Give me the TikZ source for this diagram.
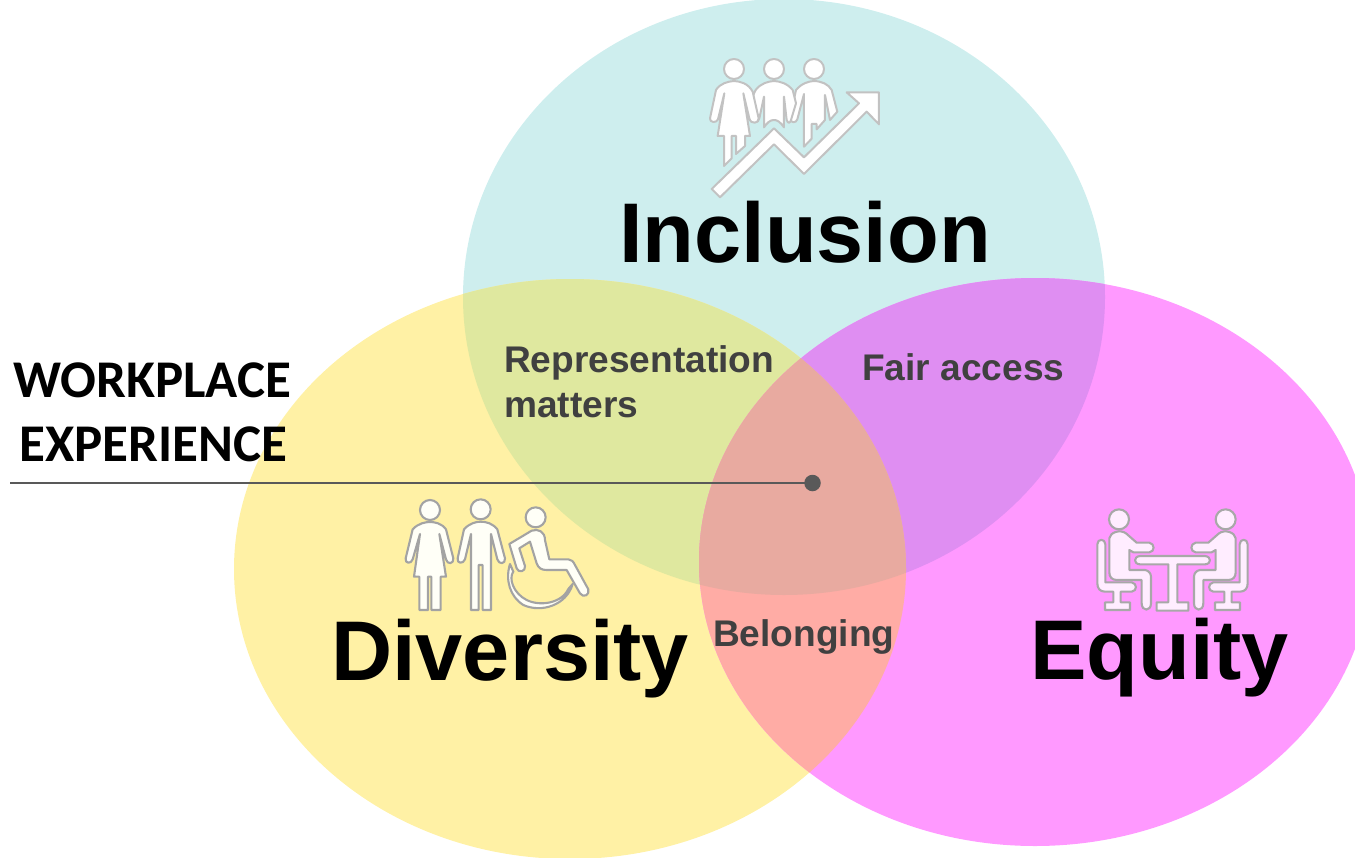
\documentclass[tikz,border=0pt]{standalone}
\usepackage{fontspec}
\setmainfont{Liberation Sans}
\newfontfamily\carl{Carlito}
\definecolor{cI}{HTML}{CEEEEE}
\definecolor{cD}{HTML}{FFF1A5}
\definecolor{cE}{HTML}{FF99FF}
\definecolor{cID}{HTML}{DFE89F}
\definecolor{cIE}{HTML}{DF8EF2}
\definecolor{cDE}{HTML}{FFACA5}
\definecolor{cIDE}{HTML}{E8AAA0}
\definecolor{lab}{HTML}{404040}
\definecolor{ln}{HTML}{595959}
\tikzset{
  big/.style={font=\fontsize{84.7}{84.7}\selectfont\bfseries,text=black,inner sep=0pt,anchor=base west},
  mid/.style={font=\fontsize{37.1}{44}\selectfont\bfseries,text=lab,inner sep=0pt,anchor=base west},
  wp/.style={font=\carl\fontsize{53}{53}\selectfont\bfseries,text=black,inner sep=0pt,anchor=base west},
  iconI/.style={every path/.style={fill=white,draw=black!24,line width=2pt,line join=round}},
  iconD/.style={every path/.style={fill=white!97!yellow,draw=black!36,line width=2.1pt,line join=round}},
  iconE/.style={every path/.style={fill=cE!18!white,draw=black!34,line width=2.1pt,line join=round}},
}
\def\elI{(784,297) ellipse [x radius=321,y radius=298]}
\def\elD{(570,569) ellipse [x radius=336,y radius=290]}
\def\elE{(1035,562) ellipse [x radius=336,y radius=284]}
\begin{document}
\begin{tikzpicture}[x=1pt,y=-1pt]
\useasboundingbox (0,0) rectangle (1355,857);
\begin{scope}
\clip (0,0) rectangle (1355,857);
\fill[cI] \elI;
\fill[cD] \elD;
\fill[cE] \elE;
\begin{scope}\clip \elI; \fill[cID] \elD; \fill[cIE] \elE; \end{scope}
\begin{scope}\clip \elD; \fill[cDE] \elE; \end{scope}
\begin{scope}\clip \elI; \clip \elD; \fill[cIDE] \elE; \end{scope}
\end{scope}

% Inclusion icon
\begin{scope}[shift={(690,40)},x=0.3333pt,y=-0.3333pt,iconI]
\draw (132,87) circle [radius=30];
\draw (252,87) circle [radius=30];
\draw (372,87) circle [radius=30];
% right man
\draw (318,150) .. controls (335,130) and (355,124) .. (372,123) .. controls (395,124) and (415,132) .. (425,150)
  -- (442,215) -- (420,240) -- (405,165) -- (405,240) -- (380,268) -- (380,252) -- (365,252) -- (365,296) -- (342,320) -- (342,162)
  -- (322,238) .. controls (318,250) and (302,250) .. (300,235) -- cycle;
% middle
\draw (197,150) .. controls (212,130) and (235,124) .. (252,123) .. controls (270,124) and (292,130) .. (308,150)
  -- (318,190) -- (303,240) .. controls (300,250) and (295,252) .. (290,240) -- (282,170) -- (282,262) .. controls (270,245) and (262,240) .. (252,240)
  .. controls (240,240) and (232,248) .. (222,262) -- (222,170) -- (208,235) .. controls (204,250) and (190,250) .. (186,235) -- (178,190) -- cycle;
% woman
\draw (78,150) .. controls (90,130) and (115,124) .. (132,123) .. controls (150,124) and (175,130) .. (188,155)
  -- (206,235) .. controls (208,250) and (182,255) .. (178,235) -- (160,160) -- (180,288) -- (165,288) -- (165,318) -- (138,342) -- (138,288) -- (125,288) -- (125,355) -- (102,378) -- (102,288) -- (83,288) -- (103,160)
  -- (84,238) .. controls (80,250) and (58,248) .. (60,235) -- cycle;
% arrow
\draw (65,447) -- (252,265) -- (342,352) -- (507,190) -- (470,157) -- (567,157) -- (567,253) -- (530,215) -- (342,402) -- (252,313) -- (90,472) -- cycle;
\end{scope}

% Diversity icon
\begin{scope}[shift={(390,490)},x=0.3333pt,y=-0.3333pt,iconD]
\draw (120,60) circle [radius=30];
\draw (272,58) circle [radius=30];
\draw (437,82) circle [radius=30];
% woman
\draw (68,118) .. controls (85,100) and (105,96) .. (120,96) .. controls (135,96) and (155,100) .. (168,118)
  -- (190,205) .. controls (192,222) and (172,225) .. (168,208) -- (148,132) -- (168,260) -- (152,260) -- (152,360) -- (124,360) -- (124,260) -- (114,260) -- (114,360) -- (88,360) -- (88,260) -- (72,260) -- (90,132)
  -- (68,208) .. controls (64,222) and (44,222) .. (47,205) -- cycle;
% man
\draw (222,118) .. controls (238,100) and (258,95) .. (272,95) .. controls (288,95) and (308,100) .. (322,118)
  -- (345,205) .. controls (347,222) and (327,225) .. (322,208) -- (303,132) -- (303,360) -- (278,360) -- (278,225) -- (266,225) -- (266,360) -- (243,360) -- (243,132)
  -- (225,208) .. controls (220,222) and (200,222) .. (203,205) -- cycle;
% wheelchair person
\draw (358,162) -- (425,122) .. controls (445,115) and (465,125) .. (465,150) -- (478,208) -- (535,208) .. controls (545,208) and (550,215) .. (555,225) -- (595,298) .. controls (600,315) and (580,325) .. (570,310) -- (530,240) -- (470,240) .. controls (455,240) and (445,235) .. (440,220) -- (420,155) -- (388,175) -- (405,228) .. controls (408,245) and (385,250) .. (380,235) -- cycle;
% wheel
\draw (360,222) .. controls (345,270) and (360,320) .. (400,345) .. controls (455,370) and (530,345) .. (548,282) -- (535,297) .. controls (515,340) and (450,350) .. (410,330) .. controls (370,310) and (355,265) .. (370,245) -- cycle;
\end{scope}

% Equity icon
\begin{scope}[shift={(1080,495)},x=0.3333pt,y=-0.3333pt,iconE]
\draw (117,73) circle [radius=30];
\draw (437,73) circle [radius=30];
% left chair
\draw (52,148) .. controls (52,130) and (76,130) .. (76,148) -- (76,262) -- (155,262) .. controls (172,265) and (172,288) .. (155,290) -- (122,290) -- (122,322) -- (150,322) -- (150,345) -- (75,345) -- (75,322) -- (100,322) -- (100,290) -- (75,290) .. controls (60,290) and (52,280) .. (52,265) -- cycle;
% right chair
\draw (503,148) .. controls (503,130) and (479,130) .. (479,148) -- (479,262) -- (400,262) .. controls (383,265) and (383,288) .. (400,290) -- (433,290) -- (433,322) -- (405,322) -- (405,345) -- (480,345) -- (480,322) -- (455,322) -- (455,290) -- (480,290) .. controls (495,290) and (503,280) .. (503,265) -- cycle;
% left person
\draw (88,130) .. controls (90,112) and (120,102) .. (138,115) -- (170,143) -- (208,143) .. controls (225,146) and (225,170) .. (208,172) -- (160,172) -- (148,165) -- (148,225) -- (195,225) .. controls (205,226) and (213,235) .. (213,245) -- (213,325) .. controls (213,350) and (185,350) .. (185,325) -- (185,255) -- (110,255) .. controls (95,255) and (88,245) .. (88,232) -- cycle;
% right person
\draw (467,130) .. controls (465,112) and (435,102) .. (417,115) -- (385,143) -- (347,143) .. controls (330,146) and (330,170) .. (347,172) -- (395,172) -- (407,165) -- (407,225) -- (360,225) .. controls (350,226) and (342,235) .. (342,245) -- (342,325) .. controls (342,350) and (370,350) .. (370,325) -- (370,255) -- (445,255) .. controls (460,255) and (467,245) .. (467,232) -- cycle;
% table
\draw (180,183) -- (375,183) .. controls (395,185) and (395,207) .. (375,208) -- (292,208) -- (292,322) -- (325,322) -- (325,347) -- (230,347) -- (230,322) -- (265,322) -- (265,208) -- (180,208) .. controls (160,207) and (160,185) .. (180,183) -- cycle;
\end{scope}

\node[big] (inc) at (619,262) {Inclusion};
\node[big] (div) at (331,680) {Diversity};
\node[big] (equ) at (1030,679) {Equity};
\node[mid] (rep) at (504,372) {Representation};
\node[mid] (mat) at (504,417) {matters};
\node[mid] (fair) at (862,380) {Fair access};
\node[mid] (bel) at (713,646) {Belonging};
\node[wp] (wp1) at (13,397) {WORKPLACE};
\node[wp] (wp2) at (19,461) {EXPERIENCE};

\coordinate (lineend) at (10,483);
\node[circle,fill=ln,minimum size=16.5pt,inner sep=0pt] (dot) at (812.5,483) {};
\draw[ln,line width=2.6pt] (lineend) -- (dot.center);
\end{tikzpicture}
\end{document}
